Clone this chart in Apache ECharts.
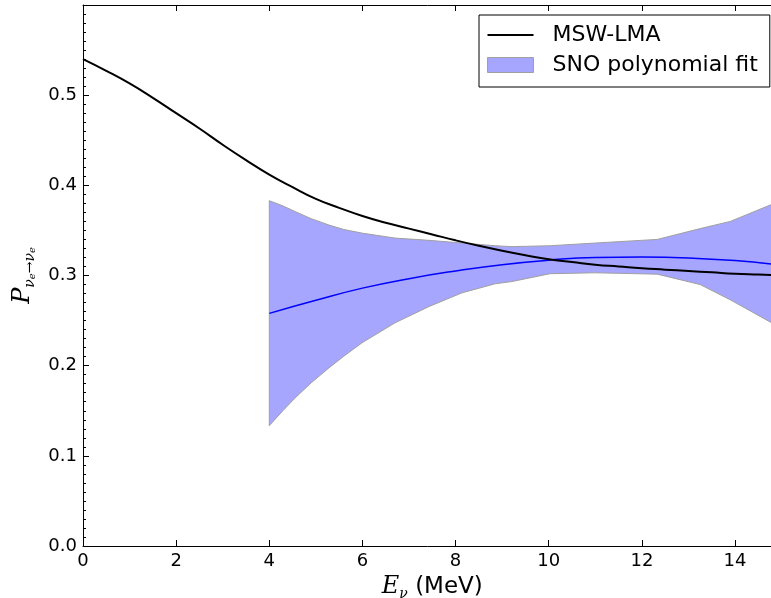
<!DOCTYPE html>
<html>
<head>
<meta charset="utf-8">
<script src="https://cdn.jsdelivr.net/npm/echarts@6/dist/echarts.min.js"></script>
<style>html,body{margin:0;padding:0;background:#fff;}#c{width:771px;height:598px;}</style>
</head>
<body>
<div id="c"></div>
<script>
// MSW-LMA survival probability
const mswE = [0,0.5,1,1.5,2,2.5,3,3.5,4,4.5,5,5.5,6,6.5,7,7.5,8,8.5,9,9.5,10,10.5,11,11.5,12,12.5,13,13.5,14,14.5,15];
const mswP = [0.540,0.527,0.513,0.497,0.480,0.463,0.445,0.428,0.412,0.398,0.385,0.375,0.366,0.3585,0.352,0.3455,0.339,0.333,0.3275,0.3225,0.318,0.315,0.312,0.310,0.308,0.3065,0.305,0.3035,0.302,0.301,0.300];
// SNO polynomial fit central line
const fitE = [4,5,6,7,8,9,10,11,12,13,14,15];
const fitP = [0.258,0.2725,0.286,0.2965,0.305,0.312,0.317,0.320,0.3205,0.3195,0.3165,0.3115];
// SNO band edges
const bandE = [4,4.3,4.55,4.9,5.28,5.6,5.99,6.70,7.43,8.14,8.85,9.21,10.03,11,12.33,13.25,13.9,14.77,15];
const bandUpper = [0.383,0.377,0.371,0.363,0.356,0.351,0.347,0.3415,0.339,0.336,0.333,0.332,0.333,0.336,0.340,0.352,0.360,0.3785,0.384];
const bandLower = [0.1335,0.1505,0.164,0.181,0.1975,0.2105,0.2253,0.2475,0.2656,0.2808,0.2908,0.2933,0.302,0.303,0.3015,0.290,0.273,0.248,0.240];
const xTicks = [0,2,4,6,8,10,12,14];
const yTicks = [0.0,0.1,0.2,0.3,0.4,0.5];

const chart = echarts.init(document.getElementById('c'), null, {renderer:'canvas'});
const axisLineStyle = {color:'#000', width:1};
const labelFont = {fontFamily:'DejaVu Sans', fontSize:18, color:'#000'};

const option = {
  animation: false,
  backgroundColor: '#fff',
  grid: {left:83, top:5, width:698.6, bottom:52, containLabel:false, outerBoundsMode:'none'},
  legend: {
    orient:'vertical', left:479, top:15,
    padding:[9,12,11,8], itemGap:8, itemWidth:46, itemHeight:15,
    backgroundColor:'#fff', borderColor:'#000', borderWidth:1, borderRadius:0,
    textStyle:{fontFamily:'DejaVu Sans', fontSize:22, color:'#000', padding:[0,0,0,14]},
    selectedMode:false,
    data:[
      {name:'MSW-LMA', icon:'path://M0,0h0.01v0.01h-0.01z M0,6.5h46v2h-46z M45.99,15h0.01v-0.01h-0.01z', itemStyle:{color:'#000', borderWidth:0}},
      {name:'SNO polynomial fit', icon:'rect', itemStyle:{color:'#a6a6ff', borderColor:'#a0a0a0', borderWidth:1}}
    ]
  },
  xAxis: [{
    type:'value', min:0, max:15, interval:2, position:'bottom',
    axisLine:{show:true, onZero:false, lineStyle:axisLineStyle},
    axisTick:{show:true, inside:true, length:6, lineStyle:{color:'#000'}},
    axisLabel:Object.assign({margin:6, formatter:v => xTicks.indexOf(v) >= 0 ? String(v) : ''}, labelFont),
    splitLine:{show:false},
    name:'{E|E}{s|ν}{t| (MeV)}', nameLocation:'middle', nameGap:24,
    nameTextStyle:{rich:{
      E:{fontFamily:'DejaVu Serif', fontStyle:'italic', fontSize:24, lineHeight:28, color:'#000'},
      s:{fontFamily:'DejaVu Serif', fontStyle:'italic', fontSize:14, lineHeight:10, verticalAlign:'bottom', color:'#000'},
      t:{fontFamily:'DejaVu Sans', fontSize:23, lineHeight:28, color:'#000'}
    }}
  },{
    type:'value', min:0, max:15, interval:2, position:'top',
    axisLine:{show:true, onZero:false, lineStyle:axisLineStyle},
    axisTick:{show:true, inside:true, length:6, lineStyle:{color:'#000'}},
    axisLabel:{show:false}, splitLine:{show:false}
  }],
  yAxis: [{
    type:'value', min:0, max:0.6, interval:0.1,
    axisLine:{show:true, onZero:false, lineStyle:axisLineStyle},
    axisTick:{show:true, inside:true, length:6, lineStyle:{color:'#000'}},
    minorTick:{show:true, splitNumber:10, length:3, lineStyle:{color:'#000'}},
    axisLabel:Object.assign({margin:6, formatter:v => {
      const r = Math.round(v*10)/10;
      return yTicks.some(t => Math.abs(t - r) < 1e-9) ? r.toFixed(1) : '';
    }}, labelFont),
    splitLine:{show:false},
    name:'{P|P}{s|ν}{ss|e}{s|→ν}{ss|e}', nameLocation:'middle', nameGap:40, nameRotate:90,
    nameTextStyle:{rich:{
      P:{fontFamily:'DejaVu Serif', fontStyle:'italic', fontSize:24, lineHeight:30, color:'#000'},
      s:{fontFamily:'DejaVu Serif', fontStyle:'italic', fontSize:14, lineHeight:12, verticalAlign:'bottom', color:'#000'},
      ss:{fontFamily:'DejaVu Serif', fontStyle:'italic', fontSize:10, lineHeight:4, verticalAlign:'bottom', color:'#000'}
    }}
  }],
  series: [
    {
      name:'SNO polynomial fit', type:'custom', silent:true, clip:true,
      data: bandE.map((e,i) => [e, bandLower[i], bandUpper[i]]),
      encode:{x:0, y:[1,2]},
      itemStyle:{color:'#a6a6ff'},
      renderItem:(params, api) => {
        if (params.dataIndex !== 0) return null;
        const pts = [];
        for (let i = 0; i < bandE.length; i++) pts.push(api.coord([bandE[i], bandUpper[i]]));
        for (let i = bandE.length - 1; i >= 0; i--) pts.push(api.coord([bandE[i], bandLower[i]]));
        return {type:'polygon', shape:{points:pts}, style:{fill:'#a6a6ff', stroke:'#a0a0a0', lineWidth:1}};
      },
      z:1
    },
    {
      name:'SNO fit', type:'line', symbol:'none', smooth:0.5, silent:true,
      data: fitE.map((e,i) => [e, fitP[i]]),
      lineStyle:{color:'#0000ff', width:1.5}, z:3
    },
    {
      name:'MSW-LMA', type:'line', symbol:'none', smooth:0.5, silent:true,
      data: mswE.map((e,i) => [e, mswP[i]]),
      lineStyle:{color:'#000', width:2}, itemStyle:{color:'#000'}, z:4
    }
  ]
};
chart.setOption(option);
</script>
</body>
</html>
